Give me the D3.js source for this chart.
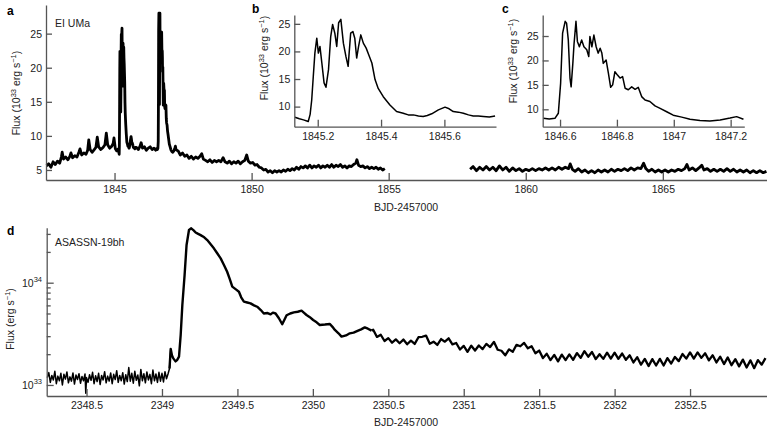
<!DOCTYPE html>
<html>
<head>
<meta charset="utf-8">
<script src="https://cdnjs.cloudflare.com/ajax/libs/d3/7.8.5/d3.min.js"></script>
<style>
  body { margin: 0; background: #fff; }
  svg { display: block; font-family: "Liberation Sans", Arial, sans-serif; }
  .axis path, .axis line { stroke: #555; stroke-width: 1.3; }
  .axis text { fill: #222; font-size: 10.5px; font-family: "Liberation Sans", Arial, sans-serif; }
  .lbl { fill: #222; font-size: 10.5px; }
  .letter { fill: #000; font-size: 12px; font-weight: bold; }
  .curve { fill: none; stroke: #000; stroke-linejoin: round; }
</style>
</head>
<body>
<svg id="chart" width="767" height="429"></svg>
<script>
// EI UMa light curve, flux in 1e33 erg/s
var aPre = [[1842.52,5.6],[1842.60,5.9],[1842.68,5.4],[1842.76,6.2],[1842.84,5.8],[1842.92,6.3],[1843.00,6.0],[1843.06,6.9],[1843.09,7.6],[1843.14,6.6],[1843.22,6.9],[1843.30,6.5],[1843.37,7.0],[1843.41,7.5],[1843.47,6.8],[1843.55,7.1],[1843.63,6.9],[1843.70,7.6],[1843.74,8.1],[1843.80,7.2],[1843.88,7.5],[1843.96,7.3],[1844.02,7.9],[1844.06,9.4],[1844.11,8.0],[1844.18,7.6],[1844.26,8.0],[1844.32,8.3],[1844.37,9.8],[1844.42,8.4],[1844.50,8.0],[1844.58,8.3],[1844.65,8.7],[1844.70,10.4],[1844.75,8.7],[1844.82,8.2],[1844.90,8.5],[1844.95,8.9],[1844.98,9.7],[1845.03,8.1],[1845.08,7.8]];

// first outburst (panel b)
var bBurst = [[1845.128,8.07],[1845.142,7.8],[1845.155,7.6],[1845.170,7.3],[1845.176,8.6],[1845.181,11.2],[1845.186,15.5],[1845.191,19.7],[1845.197,22.4],[1845.202,19.7],[1845.207,20.9],[1845.213,17.9],[1845.220,14.3],[1845.226,13.5],[1845.234,16.7],[1845.241,22.7],[1845.247,24.9],[1845.254,23.3],[1845.260,20.9],[1845.266,25.2],[1845.273,25.8],[1845.281,21.5],[1845.289,19.1],[1845.296,17.3],[1845.304,23.3],[1845.311,23.6],[1845.317,22.4],[1845.323,18.8],[1845.329,20.9],[1845.336,23.0],[1845.344,21.5],[1845.353,20.6],[1845.361,19.4],[1845.371,17.9],[1845.381,14.9],[1845.391,13.3],[1845.407,11.8],[1845.428,10.3],[1845.449,9.1],[1845.470,8.8],[1845.486,8.5],[1845.502,8.5],[1845.518,8.3],[1845.533,8.2],[1845.546,8.4],[1845.560,8.7],[1845.581,9.4],[1845.602,9.9],[1845.615,9.6],[1845.628,9.1],[1845.644,9.0],[1845.660,8.8],[1845.676,8.5],[1845.691,8.3],[1845.707,8.3],[1845.723,8.2],[1845.742,8.1],[1845.760,8.3]];

var aMid = [[1845.80,8.3],[1845.87,8.0],[1845.93,8.5],[1845.97,9.0],[1846.02,8.2],[1846.09,8.4],[1846.16,7.9],[1846.23,8.2],[1846.30,8.4],[1846.37,8.0],[1846.44,8.2],[1846.50,7.9]];

// second outburst (panel c)
var cBurst = [[1846.541,8.16],[1846.562,8.0],[1846.582,8.16],[1846.594,9.2],[1846.602,15.3],[1846.609,25.6],[1846.618,28.0],[1846.623,27.6],[1846.629,24.2],[1846.635,16.4],[1846.639,14.6],[1846.645,19.4],[1846.649,23.2],[1846.656,28.0],[1846.661,23.9],[1846.668,22.8],[1846.676,24.2],[1846.684,22.8],[1846.694,22.2],[1846.701,20.8],[1846.705,24.9],[1846.712,22.8],[1846.719,25.2],[1846.727,22.8],[1846.734,21.5],[1846.741,22.5],[1846.747,21.5],[1846.752,19.4],[1846.762,20.1],[1846.770,17.4],[1846.778,14.5],[1846.785,15.0],[1846.793,17.7],[1846.802,17.0],[1846.811,16.4],[1846.820,16.7],[1846.829,14.3],[1846.840,14.0],[1846.852,14.6],[1846.864,14.1],[1846.875,14.5],[1846.887,12.6],[1846.899,11.9],[1846.916,11.6],[1846.934,10.7],[1846.952,10.2],[1846.975,9.5],[1846.998,8.8],[1847.028,8.4],[1847.057,7.95],[1847.092,7.7],[1847.127,7.6],[1847.163,7.8],[1847.198,8.2],[1847.221,8.5],[1847.245,7.95]];

var aPost = [[1847.32,7.8],[1847.40,7.2],[1847.48,7.5],[1847.56,7.0],[1847.64,7.2],[1847.72,6.7],[1847.80,7.0],[1847.88,6.6],[1847.96,6.9],[1848.04,6.7],[1848.12,7.0],[1848.18,7.4],[1848.24,6.6],[1848.32,6.4],[1848.40,6.2],[1848.48,6.5],[1848.56,6.1],[1848.64,6.4],[1848.72,6.2],[1848.80,6.4],[1848.88,6.2],[1848.96,6.8],[1849.03,6.2],[1849.11,6.0],[1849.19,6.3],[1849.27,5.9],[1849.35,6.2],[1849.43,6.0],[1849.51,6.3],[1849.59,5.9],[1849.67,6.2],[1849.75,6.4],[1849.82,7.2],[1849.88,6.3],[1849.96,6.0],[1850.04,6.1],[1850.12,5.7],[1850.20,5.8],[1850.28,5.4],[1850.36,5.3],[1850.44,5.0],[1850.52,5.1],[1850.60,4.7],[1850.68,4.9],[1850.76,4.6],[1850.84,4.9],[1850.92,4.7],[1851.00,4.9],[1851.08,4.7],[1851.16,5.0],[1851.24,4.8],[1851.32,5.1],[1851.40,4.9],[1851.48,5.2],[1851.56,5.0],[1851.64,5.4],[1851.72,5.1],[1851.80,5.5],[1851.88,5.3],[1851.96,5.6],[1852.04,5.3],[1852.12,5.7],[1852.20,5.3],[1852.28,5.6],[1852.36,5.4],[1852.44,5.7],[1852.52,5.3],[1852.60,5.6],[1852.68,5.4],[1852.76,5.7],[1852.84,5.4],[1852.92,5.8],[1853.00,5.4],[1853.08,5.7],[1853.16,5.5],[1853.24,5.8],[1853.32,5.4],[1853.40,5.6],[1853.48,5.3],[1853.56,5.6],[1853.64,5.5],[1853.72,5.8],[1853.80,6.0],[1853.84,6.5],[1853.90,5.7],[1853.98,5.5],[1854.06,5.6],[1854.14,5.3],[1854.22,5.5],[1854.30,5.2],[1854.38,5.4],[1854.46,5.2],[1854.54,5.4],[1854.62,5.1],[1854.70,5.3],[1854.78,5.0],[1854.86,5.2]];

// after the data gap
var aLate = [[1857.97,5.1],[1858.08,5.5],[1858.20,4.9],[1858.32,5.4],[1858.44,5.0],[1858.56,5.5],[1858.68,5.0],[1858.80,5.4],[1858.92,4.9],[1859.04,5.6],[1859.16,5.0],[1859.28,5.4],[1859.40,4.8],[1859.52,5.3],[1859.64,4.9],[1859.76,5.2],[1859.88,4.8],[1860.00,5.1],[1860.12,4.9],[1860.24,5.2],[1860.36,4.9],[1860.48,5.2],[1860.60,5.0],[1860.72,5.3],[1860.84,5.0],[1860.96,5.3],[1861.08,5.0],[1861.20,5.4],[1861.32,5.1],[1861.44,5.4],[1861.56,5.2],[1861.62,5.9],[1861.70,5.1],[1861.80,4.8],[1861.92,5.2],[1862.04,4.7],[1862.16,5.0],[1862.28,4.6],[1862.40,4.9],[1862.52,4.6],[1862.64,5.0],[1862.76,4.7],[1862.88,5.0],[1863.00,4.7],[1863.12,5.1],[1863.24,4.8],[1863.36,5.1],[1863.48,4.9],[1863.60,5.2],[1863.72,4.9],[1863.84,5.3],[1863.96,5.0],[1864.08,5.3],[1864.20,5.2],[1864.30,6.0],[1864.38,5.2],[1864.48,4.8],[1864.60,5.1],[1864.72,4.7],[1864.84,5.0],[1864.96,4.7],[1865.08,5.0],[1865.20,4.7],[1865.32,5.0],[1865.44,4.8],[1865.56,5.1],[1865.68,4.9],[1865.80,5.2],[1865.88,5.8],[1865.96,5.0],[1866.08,5.3],[1866.20,4.9],[1866.32,5.3],[1866.42,5.7],[1866.50,5.0],[1866.62,5.2],[1866.74,4.8],[1866.86,5.1],[1866.98,4.8],[1867.10,5.1],[1867.22,4.8],[1867.34,5.2],[1867.46,4.8],[1867.58,5.1],[1867.70,4.7],[1867.82,5.0],[1867.94,4.7],[1868.06,5.0],[1868.18,4.6],[1868.30,4.9],[1868.42,4.6],[1868.54,4.9],[1868.66,4.6],[1868.78,4.8]];

// ASASSN-19bh, flux in 1e33 erg/s
var dQuiet = [[2348.24,1.18],[2348.25,1.32],[2348.26,1.06],[2348.27,1.24],[2348.28,1.12],[2348.29,1.36],[2348.30,1.03],[2348.31,1.22],[2348.32,1.10],[2348.33,1.30],[2348.34,1.00],[2348.35,1.27],[2348.36,1.14],[2348.37,1.34],[2348.38,1.05],[2348.39,1.20],[2348.40,1.09],[2348.41,1.31],[2348.42,1.02],[2348.43,1.25],[2348.44,1.13],[2348.45,1.29],[2348.46,1.04],[2348.47,1.21],[2348.48,1.10],[2348.49,1.28],[2348.495,0.83],[2348.50,1.18],[2348.51,1.06],[2348.52,1.26],[2348.53,1.11],[2348.54,1.33],[2348.55,1.03],[2348.56,1.23],[2348.57,1.08],[2348.58,1.30],[2348.59,1.01],[2348.60,1.24],[2348.61,1.12],[2348.62,1.35],[2348.63,1.05],[2348.64,1.22],[2348.65,1.09],[2348.66,1.31],[2348.67,1.03],[2348.68,1.27],[2348.69,1.13],[2348.70,1.38],[2348.71,1.06],[2348.72,1.24],[2348.73,1.10],[2348.74,1.32],[2348.75,1.02],[2348.76,1.26],[2348.77,1.08],[2348.78,1.48],[2348.79,1.09],[2348.80,1.30],[2348.81,1.04],[2348.82,1.36],[2348.83,1.11],[2348.84,1.25],[2348.85,0.98],[2348.86,1.42],[2348.87,1.10],[2348.88,1.29],[2348.89,1.05],[2348.90,1.34],[2348.91,1.12],[2348.92,1.27],[2348.93,1.03],[2348.94,1.40],[2348.95,1.10],[2348.96,1.28],[2348.97,1.06],[2348.98,1.33],[2348.99,1.09],[2349.00,1.30],[2349.01,1.07],[2349.02,1.35],[2349.03,1.15],[2349.04,1.28]];

var dBurst = [[2349.05,1.45],[2349.058,2.25],[2349.066,1.95],[2349.075,1.82],[2349.09,1.70],[2349.10,1.75],[2349.113,1.89],[2349.124,3.08],[2349.135,6.05],[2349.15,11.9],[2349.163,23.4],[2349.179,32.8],[2349.194,34.0],[2349.21,32.5],[2349.223,31.0],[2349.24,30.0],[2349.256,29.2],[2349.28,27.8],[2349.30,26.1],[2349.32,24.0],[2349.344,21.7],[2349.365,19.5],[2349.389,17.3],[2349.41,15.0],[2349.432,12.8],[2349.45,10.8],[2349.466,9.15],[2349.49,8.6],[2349.51,8.17],[2349.525,7.2],[2349.543,6.52],[2349.565,6.4],[2349.587,6.28],[2349.61,6.0],[2349.631,5.82],[2349.655,5.4],[2349.675,5.0],[2349.70,5.05],[2349.72,4.90],[2349.735,5.1],[2349.753,5.0],[2349.775,4.49],[2349.797,3.92],[2349.81,4.3],[2349.826,4.8],[2349.85,5.0],[2349.874,5.13],[2349.90,5.2],[2349.925,5.33],[2349.94,5.1],[2349.958,4.83],[2349.98,4.6],[2350.002,4.32],[2350.025,4.1],[2350.046,3.86],[2350.08,3.9],[2350.113,3.95],[2350.13,3.7],[2350.146,3.45],[2350.17,3.2],[2350.19,2.97],[2350.22,3.05],[2350.245,3.20],[2350.27,3.25],[2350.30,3.40],[2350.32,3.5],[2350.344,3.66],[2350.365,3.55],[2350.389,3.40]];

var dTail = [[2350.400,3.47],[2350.425,2.95],[2350.450,3.10],[2350.475,2.69],[2350.500,2.87],[2350.525,2.59],[2350.550,2.79],[2350.575,2.56],[2350.600,2.78],[2350.625,2.50],[2350.650,2.71],[2350.675,2.52],[2350.700,2.93],[2350.725,2.96],[2350.750,3.04],[2350.775,2.53],[2350.800,2.65],[2350.825,2.46],[2350.850,2.81],[2350.875,2.65],[2350.900,2.86],[2350.925,2.49],[2350.950,2.57],[2350.975,2.22],[2351.000,2.41],[2351.025,2.11],[2351.050,2.42],[2351.075,2.17],[2351.100,2.43],[2351.125,2.24],[2351.150,2.52],[2351.175,2.35],[2351.200,2.64],[2351.225,2.21],[2351.250,2.16],[2351.275,1.95],[2351.300,2.23],[2351.325,2.11],[2351.350,2.47],[2351.375,2.39],[2351.400,2.58],[2351.425,2.28],[2351.450,2.39],[2351.475,2.04],[2351.500,2.17],[2351.525,1.83],[2351.550,2.02],[2351.575,1.75],[2351.600,1.97],[2351.625,1.70],[2351.650,1.98],[2351.675,1.75],[2351.700,1.99],[2351.725,1.76],[2351.750,2.05],[2351.775,1.84],[2351.800,2.14],[2351.825,1.89],[2351.850,2.10],[2351.875,1.79],[2351.900,2.00],[2351.925,1.80],[2351.950,2.07],[2351.975,1.81],[2352.000,2.07],[2352.025,1.80],[2352.050,2.03],[2352.075,1.76],[2352.100,1.95],[2352.125,1.66],[2352.150,1.87],[2352.175,1.58],[2352.200,1.80],[2352.225,1.53],[2352.250,1.79],[2352.275,1.55],[2352.300,1.80],[2352.325,1.55],[2352.350,1.83],[2352.375,1.62],[2352.400,1.88],[2352.425,1.71],[2352.450,2.01],[2352.475,1.81],[2352.500,2.08],[2352.525,1.81],[2352.550,2.08],[2352.575,1.84],[2352.600,2.04],[2352.625,1.74],[2352.650,1.95],[2352.675,1.66],[2352.700,1.89],[2352.725,1.60],[2352.750,1.86],[2352.775,1.56],[2352.800,1.79],[2352.825,1.52],[2352.850,1.77],[2352.875,1.48],[2352.900,1.74],[2352.925,1.46],[2352.950,1.75],[2352.975,1.58],[2353.000,1.83]];

var aTicksX = [1845, 1850, 1855, 1860, 1865];
var aTicksY = [5, 10, 15, 20, 25];
var bTicksX = [1845.2, 1845.4, 1845.6];
var cTicksX = [1846.6, 1846.8, 1847, 1847.2];
var insetTicksY = [10, 15, 20, 25];
var dTicksX = [2348.5, 2349, 2349.5, 2350, 2350.5, 2351, 2351.5, 2352, 2352.5];
var dMajorY = [1, 10];
var dMinorY = [2, 3, 4, 5, 6, 7, 8, 9, 20, 30];

(function() {
  var svg = d3.select("#chart");

  function line(x, y) {
    return d3.line()
      .x(function(d) { return x(d[0]); })
      .y(function(d) { return y(d[1]); });
  }

  // flux label with superscripts, rotated
  function fluxLabel(x, y, withExp) {
    var t = svg.append("text").attr("class", "lbl")
      .attr("text-anchor", "middle")
      .attr("transform", "translate(" + x + "," + y + ") rotate(-90)");
    if (withExp) {
      t.append("tspan").text("Flux (10");
      t.append("tspan").attr("dy", -4).attr("font-size", "7.5px").text("33");
      t.append("tspan").attr("dy", 4).text(" erg s");
    } else {
      t.append("tspan").text("Flux (erg s");
    }
    t.append("tspan").attr("dy", -4).attr("font-size", "7.5px").text("\u22121");
    t.append("tspan").attr("dy", 4).text(")");
  }

  function letter(x, y, s) {
    svg.append("text").attr("class", "letter").attr("x", x).attr("y", y).text(s);
  }

  function frame(x, y, xt, yt, xFmt) {
    svg.append("g").attr("class", "axis")
      .attr("transform", "translate(0," + y.range()[0] + ")")
      .call(d3.axisBottom(x).tickValues(xt).tickSizeInner(-7).tickSizeOuter(0).tickPadding(6).tickFormat(xFmt));
    svg.append("g").attr("class", "axis")
      .attr("transform", "translate(" + x.range()[0] + ",0)")
      .call(d3.axisLeft(y).tickValues(yt).tickSizeInner(-6).tickSizeOuter(0).tickPadding(4));
  }

  // ---- panel a
  var xa = d3.scaleLinear().domain([1842.5, 1868.8]).range([46, 767]);
  var ya = d3.scaleLinear().domain([3.53, 29.2]).range([180, 5]);
  var mainA = aPre.concat(bBurst, aMid, cBurst, aPost);
  svg.append("path").datum(mainA).attr("class", "curve").attr("stroke-width", 2.8).attr("d", line(xa, ya));
  svg.append("path").datum(aLate).attr("class", "curve").attr("stroke-width", 2.8).attr("d", line(xa, ya));
  frame(xa, ya, aTicksX, aTicksY, d3.format("d"));
  letter(7, 15, "a");
  svg.append("text").attr("class", "lbl").attr("x", 55).attr("y", 27).text("EI UMa");
  fluxLabel(20, 93, true);
  svg.append("text").attr("class", "lbl").attr("x", 406).attr("y", 211).attr("text-anchor", "middle").text("BJD-2457000");

  // ---- panel b
  var xb = d3.scaleLinear().domain([1845.126, 1845.763]).range([294.3, 496]);
  var yb = d3.scaleLinear().domain([6.36, 26.6]).range([126.7, 15]);
  svg.append("path").datum(bBurst).attr("class", "curve").attr("stroke-width", 1.5).attr("d", line(xb, yb));
  frame(xb, yb, bTicksX, insetTicksY, d3.format(".1f"));
  letter(252, 13, "b");
  fluxLabel(268, 58, true);

  // ---- panel c
  var xc = d3.scaleLinear().domain([1846.539, 1847.248]).range([542.7, 744.3]);
  var yc = d3.scaleLinear().domain([6.44, 29.3]).range([126.7, 15]);
  svg.append("path").datum(cBurst).attr("class", "curve").attr("stroke-width", 1.5).attr("d", line(xc, yc));
  frame(xc, yc, cTicksX, insetTicksY, function(d) { return d3.format("~g")(d); });
  letter(502, 13, "c");
  fluxLabel(517, 61, true);

  // ---- panel d
  var xd = d3.scaleLinear().domain([2348.236, 2353.01]).range([46.7, 767]);
  var yd = d3.scaleLog().domain([0.78, 34.5]).range([396, 227.7]);
  svg.append("path").datum(dQuiet.concat(dBurst.slice(0, 2))).attr("class", "curve").attr("stroke-width", 1.5).attr("d", line(xd, yd));
  svg.append("path").datum(dBurst).attr("class", "curve").attr("stroke-width", 2.4).attr("d", line(xd, yd));
  svg.append("path").datum(dBurst.slice(-1).concat(dTail)).attr("class", "curve").attr("stroke-width", 2.3).attr("d", line(xd, yd));

  svg.append("g").attr("class", "axis")
    .attr("transform", "translate(0,396)")
    .call(d3.axisBottom(xd).tickValues(dTicksX).tickSizeInner(-7).tickSizeOuter(0).tickPadding(6)
      .tickFormat(function(d) { return d3.format("~f")(d); }));
  svg.append("g").attr("class", "axis")
    .attr("transform", "translate(46.7,0)")
    .call(d3.axisLeft(yd).tickValues(dMajorY).tickSizeInner(-7).tickSizeOuter(0).tickFormat(""));
  svg.append("g").attr("class", "axis")
    .attr("transform", "translate(46.7,0)")
    .call(d3.axisLeft(yd).tickValues(dMinorY).tickSizeInner(-4).tickSizeOuter(0).tickFormat(""))
    .select(".domain").remove();

  dMajorY.forEach(function(v, i) {
    var t = svg.append("text").attr("class", "lbl")
      .attr("x", 22).attr("y", yd(v) + 4);
    t.append("tspan").text("10");
    t.append("tspan").attr("dy", -5).attr("font-size", "7.5px").text(i === 0 ? "33" : "34");
  });

  letter(7, 235, "d");
  svg.append("text").attr("class", "lbl").attr("x", 55).attr("y", 246).text("ASASSN-19bh");
  fluxLabel(14, 319, false);
  svg.append("text").attr("class", "lbl").attr("x", 406).attr("y", 426).attr("text-anchor", "middle").text("BJD-2457000");
})();
</script>
</body>
</html>
